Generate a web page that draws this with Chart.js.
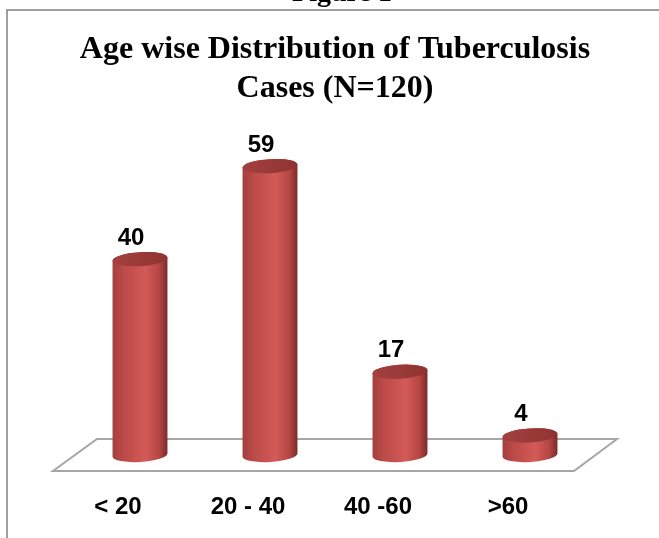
<!DOCTYPE html>
<html>
<head>
<meta charset="utf-8">
<script src="https://cdn.jsdelivr.net/npm/chart.js@4.4.1/dist/chart.umd.min.js"></script>
<style>
  html, body { margin: 0; padding: 0; background: #ffffff; }
  #tb-chart { display: block; }
</style>
</head>
<body>
<canvas id="tb-chart" width="659" height="538"></canvas>
<script>
// age groups and case counts (N=120)
var ageGroups = ['< 20', '20 - 40', '40 -60', '>60'];
var caseCounts = [40, 59, 17, 4];
var titleLines = ['Age wise Distribution of Tuberculosis', 'Cases (N=120)'];

var labelFont = '"Liberation Sans", Arial, sans-serif';

// frame, the clipped "Figure 1" caption and the 3d floor
var floorPlugin = {
    id: 'floor',
    beforeDraw: function(chart) {
        var ctx = chart.ctx;
        ctx.save();
        ctx.fillStyle = '#ffffff';
        ctx.fillRect(0, 0, chart.width, chart.height);
        ctx.fillStyle = '#000000';
        ctx.font = 'bold 28px "Liberation Serif"';
        ctx.textAlign = 'center';
        ctx.textBaseline = 'alphabetic';
        ctx.fillText('Figure 1', 342, 1);
        ctx.strokeStyle = '#808080';
        ctx.lineWidth = 1.5;
        ctx.strokeRect(7, 10, 700, 600);
        ctx.restore();
    },
    beforeDatasetsDraw: function(chart) {
        var ctx = chart.ctx;
        var area = chart.chartArea;
        var zero = chart.scales.y.getPixelForValue(0);
        ctx.save();
        ctx.beginPath();
        ctx.moveTo(area.left + 22, zero - 16);
        ctx.lineTo(area.right + 22, zero - 16);
        ctx.lineTo(area.right - 21, zero + 16);
        ctx.lineTo(area.left - 22, zero + 16);
        ctx.closePath();
        ctx.fillStyle = '#ffffff';
        ctx.fill();
        ctx.strokeStyle = '#a6a6a6';
        ctx.lineWidth = 2;
        ctx.stroke();
        ctx.restore();
    }
};

function drawCylinder(ctx, x, top, base, w) {
    var rx = w / 2, ry = 7, rot = -0.06;
    var grad = ctx.createLinearGradient(x - rx, 0, x + rx, 0);
    grad.addColorStop(0, '#a43f3d');
    grad.addColorStop(0.2, '#bb4a48');
    grad.addColorStop(0.6, '#d35a57');
    grad.addColorStop(0.85, '#b54644');
    grad.addColorStop(1, '#7a2b2a');
    ctx.beginPath();
    ctx.ellipse(x, top, rx, ry, rot, Math.PI, 2 * Math.PI);
    ctx.lineTo(x + rx * Math.cos(rot), base + rx * Math.sin(rot));
    ctx.ellipse(x, base, rx, ry, rot, 0, Math.PI);
    ctx.closePath();
    ctx.fillStyle = grad;
    ctx.fill();
    var capGrad = ctx.createLinearGradient(x - rx, 0, x + rx, 0);
    capGrad.addColorStop(0, '#a3403e');
    capGrad.addColorStop(0.5, '#9a3a38');
    capGrad.addColorStop(1, '#8e3331');
    ctx.beginPath();
    ctx.ellipse(x, top, rx, ry, rot, 0, 2 * Math.PI);
    ctx.fillStyle = capGrad;
    ctx.fill();
}

var cylinderPlugin = {
    id: 'cylinders',
    afterDatasetsDraw: function(chart) {
        var ctx = chart.ctx;
        var meta = chart.getDatasetMeta(0);
        ctx.save();
        meta.data.forEach(function(bar, i) {
            var p = bar.getProps(['x', 'y', 'base', 'width'], true);
            drawCylinder(ctx, p.x, p.y, p.base, p.width);
            ctx.fillStyle = '#000000';
            ctx.font = 'bold 24px ' + labelFont;
            ctx.textAlign = 'center';
            ctx.textBaseline = 'middle';
            ctx.fillText(String(caseCounts[i]), p.x - 9, p.y - 21);
        });
        ctx.restore();
    }
};

var tb_config = {
    type: 'bar',
    data: {
        labels: ageGroups,
        datasets: [{
            data: caseCounts,
            backgroundColor: 'rgba(0,0,0,0)',
            borderWidth: 0,
            barPercentage: 0.423,
            categoryPercentage: 1
        }]
    },
    options: {
        responsive: false,
        animation: false,
        layout: { padding: { left: 75, right: 64, top: 0, bottom: 0 } },
        plugins: {
            legend: { display: false },
            tooltip: { enabled: false },
            title: {
                display: true,
                text: titleLines,
                color: '#000000',
                font: { family: '"Liberation Serif"', size: 32, weight: 'bold', lineHeight: 1.22 },
                padding: { top: 30, bottom: 14 }
            }
        },
        scales: {
            x: {
                grid: { display: false, drawTicks: false },
                border: { display: false },
                ticks: {
                    color: '#000000',
                    font: { family: labelFont, size: 24, weight: 'bold' },
                    padding: 38,
                    labelOffset: -22
                },
                afterFit: function(scale) {
                    scale.height = 83;
                }
            },
            y: {
                display: false,
                min: 0,
                max: 68
            }
        }
    },
    plugins: [floorPlugin, cylinderPlugin]
};

window.onload = function() {
    var tb_ctx = document.getElementById('tb-chart').getContext('2d');
    window.tbBar = new Chart(tb_ctx, tb_config);
};
</script>
</body>
</html>
